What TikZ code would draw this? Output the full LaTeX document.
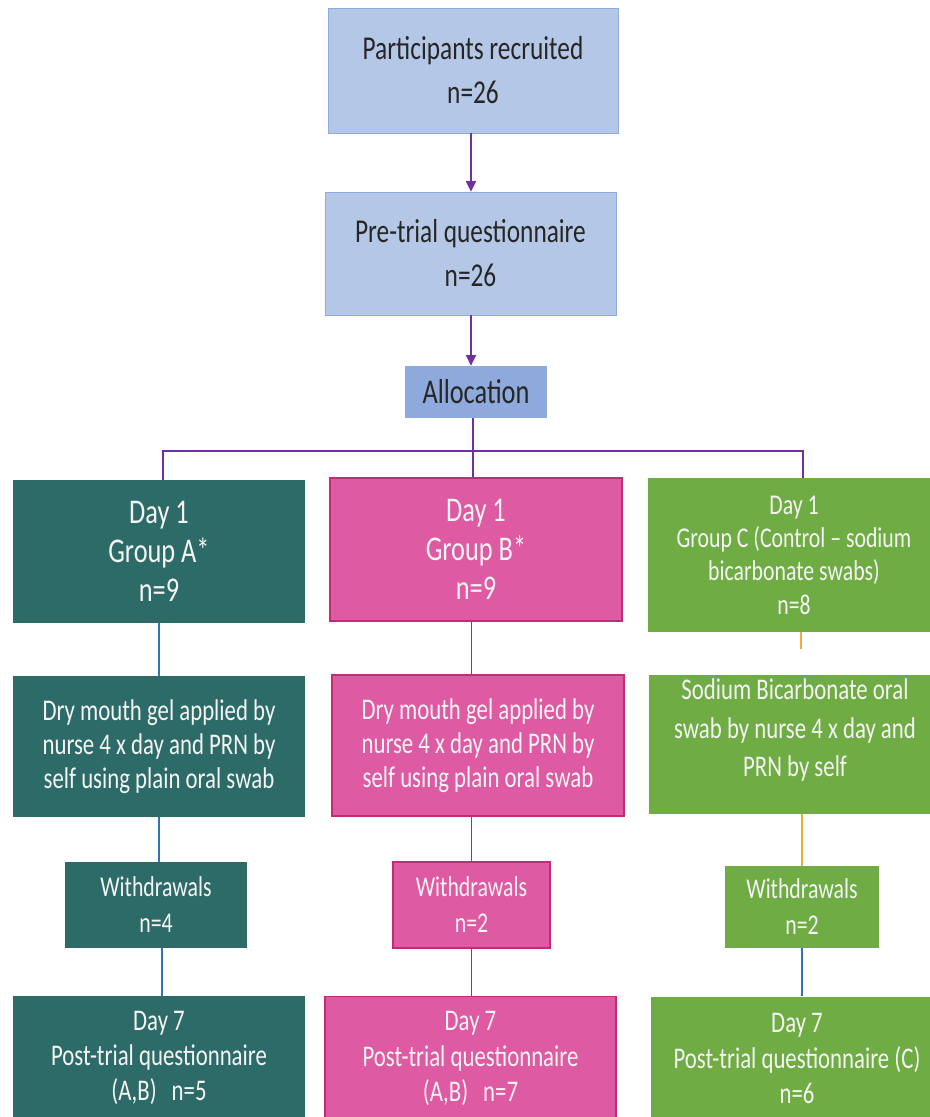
\documentclass[tikz,border=0pt]{standalone}
\usepackage{fontspec}
\setmainfont[FakeStretch=0.76]{Carlito}
\usetikzlibrary{arrows.meta}

\definecolor{stageblue}{HTML}{B4C7E7}
\definecolor{stageedge}{HTML}{8FAADC}
\definecolor{allocblue}{HTML}{8EA9DB}
\definecolor{groupA}{HTML}{2D6B69}
\definecolor{groupB}{HTML}{DE5AA3}
\definecolor{groupBedge}{HTML}{C42A75}
\definecolor{groupC}{HTML}{6FAC43}
\definecolor{flowpurple}{HTML}{7030A0}
\definecolor{lineblue}{HTML}{2E75B6}
\definecolor{linepink}{HTML}{C81E6E}
\definecolor{lineorange}{HTML}{EDB040}

\begin{document}
\begin{tikzpicture}[x=0.75pt,y=-0.75pt,
    stage/.style={draw=stageedge,fill=stageblue,text=black!85,align=center,inner sep=0pt,
        font=\fontsize{25}{33}\selectfont},
    group/.style={align=center,inner sep=0pt,text=white!96!black,minimum width=219pt},
    boxA/.style={group,fill=groupA},
    boxB/.style={group,fill=groupB,draw=groupBedge,line width=1.2pt},
    boxC/.style={group,fill=groupC},
    dayone/.style={minimum height=107pt,font=\fontsize{26}{29}\selectfont},
    treat/.style={minimum height=106pt,font=\fontsize{22.5}{25.5}\selectfont},
    withdraw/.style={minimum height=64.5pt,font=\fontsize{21.5}{27}\selectfont},
    dayseven/.style={minimum height=93pt,font=\fontsize{22.5}{26.5}\selectfont},
    flow/.style={draw=flowpurple,line width=1.3pt},
    arrow/.style={flow,-{Triangle[length=8pt,width=7.5pt]}},
    lineA/.style={draw=lineblue,line width=1.2pt},
    lineB/.style={draw=linepink,line width=1.4pt},
    lineC/.style={draw=lineorange,line width=1.2pt}]

    \useasboundingbox (0,0) rectangle (930,1117);
    \clip (0,0) rectangle (930,1117);
    \fill[white] (0,0) rectangle (930,1117);

    %top of the flow:
    \node[stage,minimum width=217.5pt,minimum height=93.75pt] (recruit) at (473,70.5) {Participants recruited\\n=26};
    \node[stage,minimum width=218.25pt,minimum height=92.25pt] (pretrial) at (470.5,253.5) {Pre-trial questionnaire\\n=26};
    \node[stage,fill=allocblue,draw=none,minimum width=106.5pt,minimum height=39pt,
        font=\fontsize{26}{28}\selectfont] (alloc) at (476,392) {Allocation};

    \draw[arrow] (recruit.south -| 471,0) -- (pretrial.north -| 471,0);
    \draw[arrow] (pretrial.south -| 471,0) -- (alloc.north -| 471,0);

    %day 1 groups:
    \node[boxA,dayone] (dayA) at (159,551.5) {Day 1\\Group A*\\n=9};
    \node[boxB,dayone] (dayB) at (476,549.5) {Day 1\\Group B*\\n=9};
    \node[boxC,minimum height=115.5pt,font=\fontsize{21.5}{25}\selectfont] (dayC) at (794,555)
        {Day 1\\Group C (Control -- sodium\\bicarbonate swabs)\\n=8};

    %split from allocation:
    \coordinate (split) at (473,451);
    \coordinate (splitA) at (163,451);
    \coordinate (splitC) at (803,451);
    \draw[flow] (alloc.south -| split) -- (split);
    \draw[flow] (splitA |- dayA.north) -- (splitA) -- (splitC) -- (splitC |- dayC.north);
    \draw[flow] (split) -- (split |- dayB.north);

    %treatment:
    \node[boxA,treat] (treatA) at (159,746.5) {Dry mouth gel applied by\\nurse 4 x day and PRN by\\self using plain oral swab};
    \node[boxB,treat] (treatB) at (478,745.5) {Dry mouth gel applied by\\nurse 4 x day and PRN by\\self using plain oral swab};
    \node[boxC,minimum height=104pt,text depth=25pt,font=\fontsize{22.5}{29}\selectfont] (treatC) at (795,744.5)
        {Sodium Bicarbonate oral\\swab by nurse 4 x day and\\PRN by self};

    %withdrawals:
    \node[boxA,withdraw,minimum width=136.5pt] (wdA) at (156,905) {Withdrawals\\n=4};
    \node[boxB,withdraw,minimum width=117.75pt] (wdB) at (471.5,905) {Withdrawals\\n=2};
    \node[boxC,withdraw,minimum width=115.5pt,minimum height=61.5pt] (wdC) at (802,907) {Withdrawals\\n=2};

    %day 7:
    \node[boxA,dayseven] (postA) at (159,1058) {Day 7\\Post-trial questionnaire\\(A,B)\enspace n=5};
    \node[boxB,dayseven,minimum width=218.25pt] (postB) at (470.5,1058.5) {Day 7\\Post-trial questionnaire\\(A,B)\enspace n=7};
    \node[boxC,dayseven] (postC) at (797,1058.5) {Day 7\\Post-trial questionnaire (C)\\n=6};

    %draw column lines:
    \draw[lineA] (dayA.south) -- (treatA.north -| dayA.south);
    \draw[lineA] (treatA.south -| dayA.south) -- (wdA.north -| dayA.south);
    \draw[lineA] (wdA.south -| 162,0) -- (postA.north -| 162,0);

    \draw[lineB] (dayB.south -| wdB.north) -- (treatB.north -| wdB.north);
    \draw[lineB] (treatB.south -| wdB.north) -- (wdB.north);
    \draw[lineB] (wdB.south) -- (postB.north -| wdB.south);

    \coordinate (stubC) at (801,649);
    \draw[lineC] (dayC.south -| stubC) -- (stubC);
    \draw[lineC] (treatC.south -| wdC.north) -- (wdC.north);
    \draw[lineA] (wdC.south) -- (postC.north -| wdC.south);

\end{tikzpicture}
\end{document}
